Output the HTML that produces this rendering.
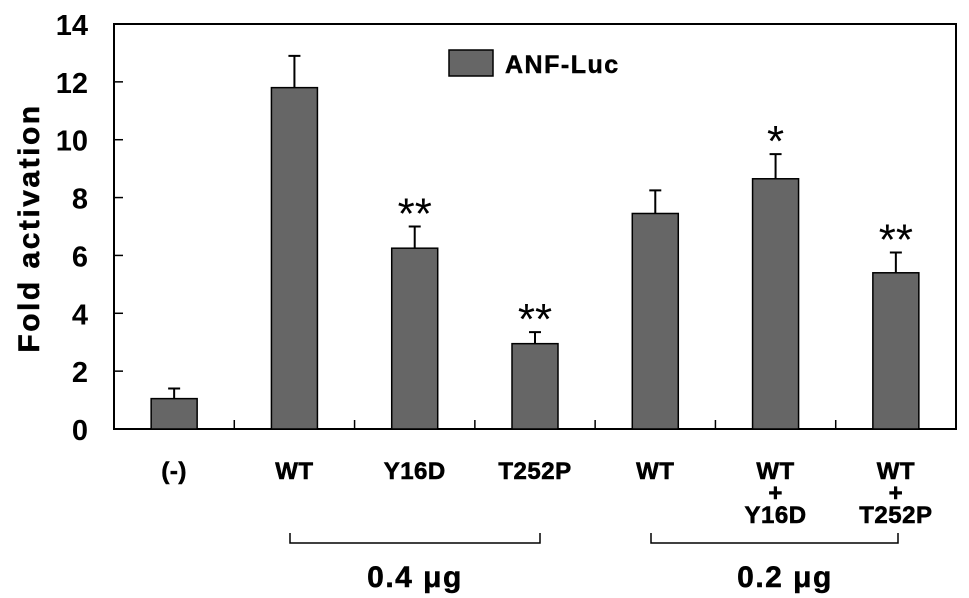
<!DOCTYPE html>
<html><head><meta charset="utf-8"><style>
html,body{margin:0;padding:0;background:#fff;}
svg{display:block;font-family:"Liberation Sans",Arial,sans-serif;font-weight:bold;}
</style></head><body>
<svg id="chart" width="969" height="598" viewBox="0 0 969 598">
<rect x="114" y="24" width="842" height="405" fill="none" stroke="#000" stroke-width="2"/>
<g id="yaxis"></g>
<g id="bars"></g>
<g id="xlabels"></g>
<text x="39" y="228" font-size="30" letter-spacing="2.5" stroke="#000" stroke-width="0.5" text-anchor="middle" transform="rotate(-90 39 228)">Fold activation</text>
<g>
<rect x="449" y="50" width="44" height="26" fill="#666" stroke="#000" stroke-width="1.5"/>
<text x="505" y="73" font-size="25" letter-spacing="1.5" stroke="#000" stroke-width="0.5">ANF-Luc</text>
</g>
<g>
<path d="M290 533 V543 H540 V533" fill="none" stroke="#000" stroke-width="1.5"/>
<text x="415" y="587" font-size="30" letter-spacing="1.5" stroke="#000" stroke-width="0.5" text-anchor="middle">0.4 μg</text>
</g>
<g>
<path d="M651 533 V543 H898 V533" fill="none" stroke="#000" stroke-width="1.5"/>
<text x="785" y="587" font-size="30" letter-spacing="1.5" stroke="#000" stroke-width="0.5" text-anchor="middle">0.2 μg</text>
</g>
</svg>
<script>
const categories = ["(-)", "WT", "Y16D", "T252P", "WT", "WT|+|Y16D", "WT|+|T252P"];
const values = [1.05, 11.8, 6.25, 2.95, 7.45, 8.65, 5.4];
const errors = [0.35, 1.1, 0.75, 0.4, 0.8, 0.85, 0.7];
const marks = ["", "", "**", "**", "", "*", "**"];
const yTicks = [0, 2, 4, 6, 8, 10, 12, 14];

const NS = "http://www.w3.org/2000/svg";
const x0 = 114, x1 = 956, yBase = 429, yTop = 24, yMax = 14;
const bandW = (x1 - x0) / categories.length;
const xC = i => x0 + bandW * (i + 0.5);
const yS = v => yBase - (v / yMax) * (yBase - yTop);
function mk(tag, attrs, parent){const e=document.createElementNS(NS,tag);for(const k in attrs)e.setAttribute(k,attrs[k]);parent.appendChild(e);return e;}

const ya = document.getElementById("yaxis");
yTicks.forEach(t=>{
  const y = yS(t);
  const l = mk("line",{x1:x0,x2:x0+9,y1:y,y2:y,stroke:"#000","stroke-width":1.5},ya);
  
  
  const tx = mk("text",{x:88,y:y+11,"font-size":29,"text-anchor":"end"},ya);
  tx.textContent = t;
  
  
});
for(let i=1;i<categories.length;i++){
  const x = x0 + bandW*i;
  const l = mk("line",{x1:x,x2:x,y1:yBase,y2:yBase-9,stroke:"#000","stroke-width":1.5},ya);
  
  
}

const bg = document.getElementById("bars");
const xl = document.getElementById("xlabels");
const bw = 46;
categories.forEach((c,i)=>{
  const cx = xC(i), v = values[i], e = errors[i];
  const r = mk("rect",{x:cx-bw/2,y:yS(v),width:bw,height:yBase-yS(v),fill:"#666",stroke:"#000","stroke-width":1.5},bg);
  
  
  const eb = mk("path",{d:`M${cx} ${yS(v)} V${yS(v+e)} M${cx-6} ${yS(v+e)} H${cx+6}`,stroke:"#000","stroke-width":2,fill:"none"},bg);
  
  
  if(marks[i]){
    const s = mk("text",{x:cx,y:yS(v+e)+2,"font-size":44,"font-weight":"normal","text-anchor":"middle"},bg);
    s.textContent = marks[i];
    
    
  }
  const lines = c.split("|");
  lines.forEach((ln,j)=>{
    const t = mk("text",{x:cx,y:479+j*22,"font-size":24,"letter-spacing":0.5,stroke:"#000","stroke-width":0.6,"text-anchor":"middle"},xl);
    t.textContent = ln;
    
    
  });
});
</script>
</body></html>
